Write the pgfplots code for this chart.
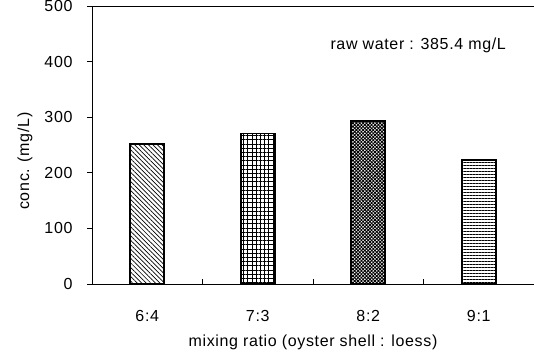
\documentclass[border=0pt]{standalone}
\usepackage{pgfplots}
\pgfplotsset{compat=1.18}
\usepackage{fontspec}
\setmainfont{Liberation Sans}[LetterSpace=4]
\usetikzlibrary{patterns.meta}
\begin{document}
\fontsize{16}{19}\selectfont
\begin{tikzpicture}
\begin{axis}[
  scale only axis,
  width=442pt, height=278pt,
  at={(0,0)}, anchor=south west,
  xmin=-0.5, xmax=3.5,
  ymin=0, ymax=500,
  ytick={0,100,...,500},
  xtick={0.5,1.5,2.5},
  xticklabels={},
  extra x ticks={0,1,2,3},
  extra x tick labels={6:4,7:3,8:2,9:1},
  extra x tick style={major tick length=0pt, xticklabel style={yshift=-21pt}},
  axis x line*=bottom,
  axis y line*=left,
  axis line style={line width=0.9pt, -},
  xtick align=inside, ytick align=inside,
  major tick length=-5pt,
  tick style={black, line width=0.8pt},
  /pgf/number format/assume math mode=true,
  ticklabel style={font=\fontsize{16}{19}\selectfont},
  yticklabel style={xshift=-14pt},
  xlabel={mixing ratio (oyster shell : loess)},
  ylabel={conc. (mg/L)},
  label style={font=\fontsize{16}{19}\selectfont},
  xlabel style={yshift=-7pt},
  ylabel style={at={(rel axis cs:0,0.442)}, anchor=center, yshift=67pt},
  ybar, bar width=34pt, bar shift=0pt,
  clip=false,
]
\addplot[draw=black, line width=1.6pt, pattern={Lines[angle=-45,distance=3.2pt,line width=0.7pt]}] coordinates {(0,252)};
\addplot[draw=black, line width=1.6pt, pattern={Hatch[angle=0,distance=4.2pt,line width=1pt]}] coordinates {(1,271)};
\addplot[draw=black, line width=1.6pt, pattern={Hatch[angle=45,distance=2.4pt,line width=0.9pt]}] coordinates {(2,293)};
\addplot[draw=black, line width=1.6pt, pattern={Lines[angle=0,distance=3pt,line width=1pt]}] coordinates {(3,223)};
\draw[line width=0.9pt] (rel axis cs:0,1) -- (rel axis cs:1,1);
\node[font=\fontsize{16}{19}\selectfont] at (rel axis cs:0.738,0.86) {raw water : 385.4 mg/L};
\end{axis}
\pgfresetboundingbox
\path[use as bounding box] (-92pt,-70pt) rectangle (442pt,284pt);
\end{tikzpicture}
\end{document}
